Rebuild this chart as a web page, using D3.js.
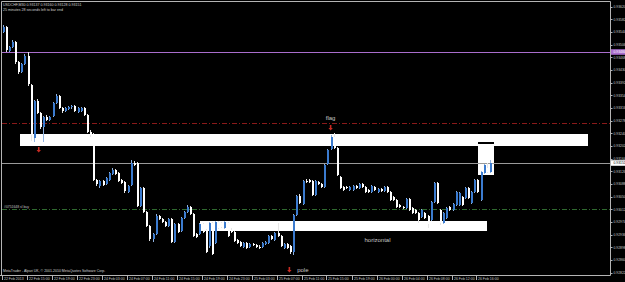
<!DOCTYPE html>
<html>
<head>
<meta charset="utf-8">
<script src="https://cdn.jsdelivr.net/npm/d3@7"></script>
<style>
  body { margin: 0; background: #000; }
  svg { display: block; }
</style>
</head>
<body>
<svg width="625" height="282"></svg>
<script>
// USDCHF M30 bars
const opens = [
  0.93544, 0.93559, 0.93487, 0.93499, 0.93514, 0.93454, 0.93424, 0.93448, 0.93472, 0.93385,
  0.93226, 0.93337, 0.93301, 0.93259, 0.93289, 0.93280, 0.93292, 0.93331, 0.93352, 0.93316,
  0.93307, 0.93313, 0.93319, 0.93322, 0.93304, 0.93307, 0.93316, 0.93295, 0.93244, 0.93238,
  0.93100, 0.93082, 0.93097, 0.93088, 0.93100, 0.93118, 0.93130, 0.93121, 0.93100, 0.93094,
  0.93064, 0.93085, 0.93151, 0.93151, 0.93022, 0.93076, 0.93004, 0.92962, 0.92923, 0.92938,
  0.92992, 0.92983, 0.92974, 0.92962, 0.92983, 0.92914, 0.92968, 0.92947, 0.92986, 0.93004,
  0.93019, 0.92998, 0.92938, 0.92938, 0.92968, 0.92950, 0.92902, 0.92971, 0.92911, 0.92974,
  0.92971, 0.92956, 0.92971, 0.92950, 0.92944, 0.92920, 0.92914, 0.92899, 0.92911, 0.92899,
  0.92908, 0.92905, 0.92899, 0.92899, 0.92908, 0.92911, 0.92932, 0.92920, 0.92941, 0.92932,
  0.92896, 0.92908, 0.92902, 0.92884, 0.92995, 0.93052, 0.93028, 0.93097, 0.93100, 0.93097,
  0.93055, 0.93094, 0.93088, 0.93079, 0.93148, 0.93193, 0.93229, 0.93196, 0.93109, 0.93079,
  0.93079, 0.93070, 0.93070, 0.93082, 0.93076, 0.93088, 0.93079, 0.93070, 0.93064, 0.93079,
  0.93064, 0.93073, 0.93067, 0.93079, 0.93064, 0.93049, 0.93040, 0.93025, 0.93019, 0.93016,
  0.93043, 0.93016, 0.93010, 0.93001, 0.92989, 0.93001, 0.92992, 0.92980, 0.93034, 0.93091,
  0.93010, 0.92971, 0.92986, 0.93019, 0.93010, 0.93025, 0.93025, 0.93049, 0.93046, 0.93076,
  0.93031, 0.93064, 0.93100, 0.93040, 0.93121, 0.93136, 0.93124
];
const highs = [
  0.93565, 0.93562, 0.93502, 0.93520, 0.93517, 0.93457, 0.93451, 0.93478, 0.93484, 0.93388,
  0.93340, 0.93343, 0.93304, 0.93292, 0.93295, 0.93292, 0.93334, 0.93358, 0.93355, 0.93319,
  0.93319, 0.93322, 0.93325, 0.93325, 0.93319, 0.93319, 0.93319, 0.93298, 0.93250, 0.93241,
  0.93103, 0.93100, 0.93100, 0.93109, 0.93124, 0.93136, 0.93133, 0.93124, 0.93103, 0.93097,
  0.93085, 0.93160, 0.93157, 0.93154, 0.93079, 0.93079, 0.93007, 0.92965, 0.92941, 0.92998,
  0.92995, 0.92986, 0.92977, 0.92986, 0.92986, 0.92971, 0.92971, 0.92989, 0.93007, 0.93025,
  0.93022, 0.93001, 0.92941, 0.92971, 0.92971, 0.92953, 0.92974, 0.92974, 0.92977, 0.92977,
  0.92974, 0.92977, 0.92974, 0.92956, 0.92947, 0.92923, 0.92917, 0.92914, 0.92914, 0.92911,
  0.92911, 0.92908, 0.92905, 0.92914, 0.92917, 0.92935, 0.92935, 0.92944, 0.92971, 0.92935,
  0.92911, 0.92911, 0.92905, 0.92998, 0.93055, 0.93058, 0.93100, 0.93103, 0.93103, 0.93100,
  0.93100, 0.93097, 0.93091, 0.93148, 0.93193, 0.93235, 0.93241, 0.93199, 0.93112, 0.93082,
  0.93082, 0.93082, 0.93085, 0.93085, 0.93091, 0.93091, 0.93082, 0.93073, 0.93085, 0.93082,
  0.93076, 0.93076, 0.93082, 0.93082, 0.93067, 0.93052, 0.93043, 0.93028, 0.93022, 0.93046,
  0.93046, 0.93019, 0.93013, 0.93004, 0.93013, 0.93004, 0.92995, 0.93037, 0.93094, 0.93094,
  0.93013, 0.93004, 0.93019, 0.93022, 0.93031, 0.93067, 0.93064, 0.93052, 0.93079, 0.93079,
  0.93067, 0.93103, 0.93103, 0.93127, 0.93148, 0.93151, 0.93160
];
const lows = [
  0.93541, 0.93484, 0.93484, 0.93496, 0.93448, 0.93418, 0.93421, 0.93445, 0.93382, 0.93217,
  0.93214, 0.93298, 0.93253, 0.93214, 0.93277, 0.93277, 0.93289, 0.93328, 0.93313, 0.93301,
  0.93304, 0.93310, 0.93313, 0.93304, 0.93301, 0.93304, 0.93292, 0.93241, 0.93229, 0.93097,
  0.93082, 0.93076, 0.93082, 0.93085, 0.93097, 0.93115, 0.93115, 0.93094, 0.93088, 0.93061,
  0.93061, 0.93082, 0.93142, 0.93019, 0.93019, 0.93001, 0.92959, 0.92917, 0.92914, 0.92935,
  0.92980, 0.92971, 0.92959, 0.92959, 0.92911, 0.92911, 0.92941, 0.92944, 0.92983, 0.93001,
  0.92995, 0.92929, 0.92926, 0.92935, 0.92941, 0.92881, 0.92896, 0.92875, 0.92908, 0.92953,
  0.92956, 0.92953, 0.92929, 0.92941, 0.92914, 0.92908, 0.92899, 0.92896, 0.92893, 0.92896,
  0.92902, 0.92896, 0.92893, 0.92896, 0.92905, 0.92908, 0.92920, 0.92917, 0.92929, 0.92899,
  0.92893, 0.92893, 0.92878, 0.92875, 0.92992, 0.93028, 0.93025, 0.93091, 0.93091, 0.93052,
  0.93052, 0.93085, 0.93076, 0.93076, 0.93145, 0.93190, 0.93193, 0.93112, 0.93073, 0.93067,
  0.93073, 0.93067, 0.93067, 0.93073, 0.93073, 0.93076, 0.93061, 0.93061, 0.93061, 0.93067,
  0.93061, 0.93064, 0.93064, 0.93061, 0.93037, 0.93037, 0.93016, 0.93016, 0.93013, 0.93013,
  0.93007, 0.92998, 0.92998, 0.92971, 0.92986, 0.92983, 0.92956, 0.92977, 0.93031, 0.93028,
  0.92965, 0.92968, 0.92983, 0.93007, 0.93007, 0.93022, 0.93022, 0.93022, 0.93043, 0.93043,
  0.93028, 0.93061, 0.93061, 0.93037, 0.93118, 0.93121, 0.93121
];
const closes = [
  0.93559, 0.93490, 0.93499, 0.93514, 0.93454, 0.93424, 0.93448, 0.93472, 0.93388, 0.93235,
  0.93337, 0.93301, 0.93259, 0.93289, 0.93280, 0.93289, 0.93331, 0.93352, 0.93316, 0.93307,
  0.93316, 0.93319, 0.93322, 0.93307, 0.93316, 0.93316, 0.93295, 0.93244, 0.93235, 0.93100,
  0.93088, 0.93097, 0.93085, 0.93106, 0.93121, 0.93130, 0.93118, 0.93097, 0.93091, 0.93067,
  0.93082, 0.93151, 0.93145, 0.93022, 0.93076, 0.93004, 0.92962, 0.92923, 0.92938, 0.92992,
  0.92983, 0.92974, 0.92962, 0.92983, 0.92914, 0.92968, 0.92944, 0.92986, 0.93004, 0.93019,
  0.92998, 0.92932, 0.92929, 0.92968, 0.92944, 0.92884, 0.92971, 0.92878, 0.92974, 0.92956,
  0.92959, 0.92974, 0.92932, 0.92944, 0.92917, 0.92911, 0.92902, 0.92911, 0.92896, 0.92908,
  0.92905, 0.92899, 0.92896, 0.92911, 0.92914, 0.92932, 0.92923, 0.92941, 0.92932, 0.92902,
  0.92908, 0.92896, 0.92884, 0.92995, 0.93052, 0.93031, 0.93097, 0.93094, 0.93094, 0.93055,
  0.93097, 0.93088, 0.93079, 0.93145, 0.93190, 0.93229, 0.93196, 0.93115, 0.93076, 0.93070,
  0.93076, 0.93079, 0.93082, 0.93076, 0.93088, 0.93079, 0.93064, 0.93064, 0.93082, 0.93070,
  0.93073, 0.93067, 0.93079, 0.93064, 0.93040, 0.93040, 0.93019, 0.93019, 0.93016, 0.93043,
  0.93010, 0.93001, 0.93001, 0.92980, 0.93010, 0.92986, 0.92968, 0.93034, 0.93091, 0.93031,
  0.92971, 0.93001, 0.93016, 0.93010, 0.93028, 0.93064, 0.93061, 0.93025, 0.93076, 0.93046,
  0.93064, 0.93100, 0.93064, 0.93124, 0.93145, 0.93124, 0.93151
];

// one label every 8 bars (4 hours)
const timeLabels = [
  "22 Feb 2013", "22 Feb 15:00", "22 Feb 19:00", "22 Feb 23:00", "24 Feb 03:00",
  "24 Feb 07:00", "24 Feb 11:00", "24 Feb 15:00", "24 Feb 19:00", "24 Feb 23:00",
  "25 Feb 03:00", "25 Feb 07:00", "25 Feb 11:00", "25 Feb 15:00", "25 Feb 19:00",
  "26 Feb 00:00", "26 Feb 04:00", "26 Feb 08:00", "26 Feb 12:00", "26 Feb 16:00"
];
const priceTicks = [
  0.93620, 0.93582, 0.93544, 0.93506, 0.93468, 0.93430, 0.93392, 0.93354, 0.93316, 0.93278,
  0.93240, 0.93202, 0.93164, 0.93126, 0.93088, 0.93050, 0.93012, 0.92974, 0.92936, 0.92898,
  0.92860, 0.92822
];

// drawn objects: rectangles (bar index / price), lines, texts, arrows
const zoneStart = [5.6, 63.2, 152.2];
const zoneEnd = [187.4, 155, 157.3];
const zoneTop = [0.93238, 0.92977, 0.93211];
const zoneBottom = [0.93202, 0.92947, 0.93115];

const levelPrices = [0.93484, 0.93271, 0.93013];
const bidPrice = closes[closes.length - 1];

const noteTexts = ["flag", "horizontal", "pole"];
const noteBars = [105, 120, 94.3];
const notePrices = [0.93280, 0.92914, 0.92824];

const arrowBars = [11.6, 105, 91.8];
const arrowPrices = [0.93190, 0.93256, 0.92830];

const font = "'Liberation Sans', Arial, sans-serif";
const svg = d3.select("svg").style("font-family", font);

const x = d3.scaleLinear().domain([0, 156]).range([2.5, 490]);
const y = d3.scaleLinear().domain([0.92815, 0.93640]).range([275, 0]);

svg.append("rect").attr("width", 625).attr("height", 282).attr("fill", "#000");

svg.append("clipPath").attr("id", "plot")
  .append("rect").attr("x", 2).attr("y", 2).attr("width", 608).attr("height", 273);

const plot = svg.append("g").attr("clip-path", "url(#plot)");

// --- rectangles (behind bars) ---
const zones = plot.append("g").attr("shape-rendering", "crispEdges");
zones.selectAll("rect")
  .data(zoneStart)
  .join("rect")
  .attr("x", (d) => Math.round(x(d)))
  .attr("y", (d, i) => Math.round(y(zoneTop[i])))
  .attr("width", (d, i) => Math.round(x(zoneEnd[i]) - x(d)))
  .attr("height", (d, i) => Math.round(y(zoneBottom[i]) - y(zoneTop[i])))
  .attr("fill", "#ffffff");

// dark top edge of the small box where it sits on the long one
zones.append("rect")
  .attr("x", Math.round(x(zoneStart[2])))
  .attr("y", Math.round(y(zoneTop[2])) - 1)
  .attr("width", Math.round(x(zoneEnd[2]) - x(zoneStart[2])))
  .attr("height", 2)
  .attr("fill", "#000");

// --- horizontal levels ---
const levelStyles = [
  { color: "#a96dcc", dash: null },
  { color: "#8a1a1a", dash: "5,2,1,2" },
  { color: "#2f6a2f", dash: "5,2,1,2" },
];
plot.append("g")
  .selectAll("line")
  .data(levelPrices)
  .join("line")
  .attr("x1", 2)
  .attr("x2", 610)
  .attr("y1", (d) => Math.round(y(d)) + 0.5)
  .attr("y2", (d) => Math.round(y(d)) + 0.5)
  .attr("stroke", (d, i) => levelStyles[i].color)
  .attr("stroke-dasharray", (d, i) => levelStyles[i].dash);

// bid line
plot.append("line")
  .attr("x1", 2).attr("x2", 610)
  .attr("y1", Math.round(y(bidPrice)) + 0.5)
  .attr("y2", Math.round(y(bidPrice)) + 0.5)
  .attr("stroke", "#9a9a9a");

// --- candles ---
const bars = d3.range(opens.length).map((i) => ({
  i, o: opens[i], h: highs[i], l: lows[i], c: closes[i],
}));

const candles = plot.append("g").attr("shape-rendering", "crispEdges");

candles.selectAll("line")
  .data(bars)
  .join("line")
  .attr("x1", (d) => Math.round(x(d.i)) + 0.5)
  .attr("x2", (d) => Math.round(x(d.i)) + 0.5)
  .attr("y1", (d) => y(d.h))
  .attr("y2", (d) => y(d.l))
  .attr("stroke", (d) => (d.c >= d.o ? "#8fb2e0" : "#e6e6e6"));

candles.selectAll("rect")
  .data(bars)
  .join("rect")
  .attr("x", (d) => Math.round(x(d.i)) - 0.5)
  .attr("y", (d) => Math.round(y(Math.max(d.o, d.c))))
  .attr("width", 2)
  .attr("height", (d) => Math.max(1, Math.round(Math.abs(y(d.o) - y(d.c)))))
  .attr("fill", (d) => (d.c >= d.o ? "#3b7bcf" : "#ffffff"));

// --- arrows and notes ---
plot.append("g")
  .selectAll("path")
  .data(arrowBars)
  .join("path")
  .attr("transform", (d, i) => `translate(${x(d)},${y(arrowPrices[i])})`)
  .attr("d", "M-0.8,-3V0H-2.2L0,2.6L2.2,0H0.8V-3Z")
  .attr("fill", "#c82a22");

plot.append("g")
  .selectAll("text")
  .data(noteTexts)
  .join("text")
  .attr("x", (d, i) => x(noteBars[i]))
  .attr("y", (d, i) => y(notePrices[i]))
  .attr("text-anchor", (d, i) => (i === 2 ? "start" : "middle"))
  .attr("font-size", "6px")
  .attr("fill", "#c8c8c8")
  .text((d) => d);

plot.append("text")
  .attr("x", 4)
  .attr("y", y(levelPrices[2]) - 1.2)
  .attr("font-size", "3.4px")
  .attr("fill", "#c0c0c0")
  .text("#0751648 sl buy");

// --- frame ---
svg.append("path")
  .attr("d", "M1.5,275.5V1.5H610.5V275.5H0")
  .attr("fill", "none")
  .attr("stroke", "#b4b4b4");

// --- price axis ---
const yAxis = svg.append("g");
yAxis.selectAll("line")
  .data(priceTicks)
  .join("line")
  .attr("x1", 610).attr("x2", 612.5)
  .attr("y1", (d) => Math.round(y(d)) + 0.5)
  .attr("y2", (d) => Math.round(y(d)) + 0.5)
  .attr("stroke", "#b4b4b4");
yAxis.selectAll("text")
  .data(priceTicks)
  .join("text")
  .attr("x", 613.5)
  .attr("y", (d) => y(d) + 1.3)
  .attr("font-size", "3.4px")
  .attr("fill", "#c8c8c8")
  .text((d) => d.toFixed(5));

// price boxes for purple level and bid
const boxes = [
  { p: levelPrices[0], bg: "#a96dcc", fg: "#fff" },
  { p: bidPrice, bg: "#fff", fg: "#000" },
];
const box = svg.append("g").selectAll("g").data(boxes).join("g")
  .attr("transform", (d) => `translate(611,${y(d.p)})`);
box.append("rect").attr("x", 0).attr("y", -2.8).attr("width", 14).attr("height", 5.6)
  .attr("fill", (d) => d.bg);
box.append("text").attr("x", 2.5).attr("y", 1.3).attr("font-size", "3.4px")
  .attr("fill", (d) => d.fg).text((d) => d.p.toFixed(5));

// --- time axis ---
const xAxis = svg.append("g");
xAxis.selectAll("line")
  .data(timeLabels)
  .join("line")
  .attr("x1", (d, i) => Math.round(x(i * 8)) - 0.5)
  .attr("x2", (d, i) => Math.round(x(i * 8)) - 0.5)
  .attr("y1", 275)
  .attr("y2", 280)
  .attr("stroke", "#b4b4b4");
xAxis.selectAll("text")
  .data(timeLabels)
  .join("text")
  .attr("x", (d, i) => Math.round(x(i * 8)) + 1)
  .attr("y", 280.3)
  .attr("font-size", "3.5px")
  .attr("fill", "#c8c8c8")
  .text((d) => d);

// --- header and footer texts ---
const header = [
  "USDCHF,M30  0.93137 0.93160 0.93128 0.93151",
  "25 minutes 28 seconds left to bar end",
];
svg.append("g")
  .selectAll("text")
  .data(header)
  .join("text")
  .attr("x", 3)
  .attr("y", (d, i) => 5.5 + i * 5)
  .attr("font-size", "3.6px")
  .attr("fill", "#d0d0d0")
  .text((d) => d);

svg.append("text")
  .attr("x", 3)
  .attr("y", 271.8)
  .attr("font-size", "3.5px")
  .attr("fill", "#d0d0d0")
  .text("MetaTrader - Alpari UK, \u00a9 2001-2010 MetaQuotes Software Corp.");
</script>
</body>
</html>
